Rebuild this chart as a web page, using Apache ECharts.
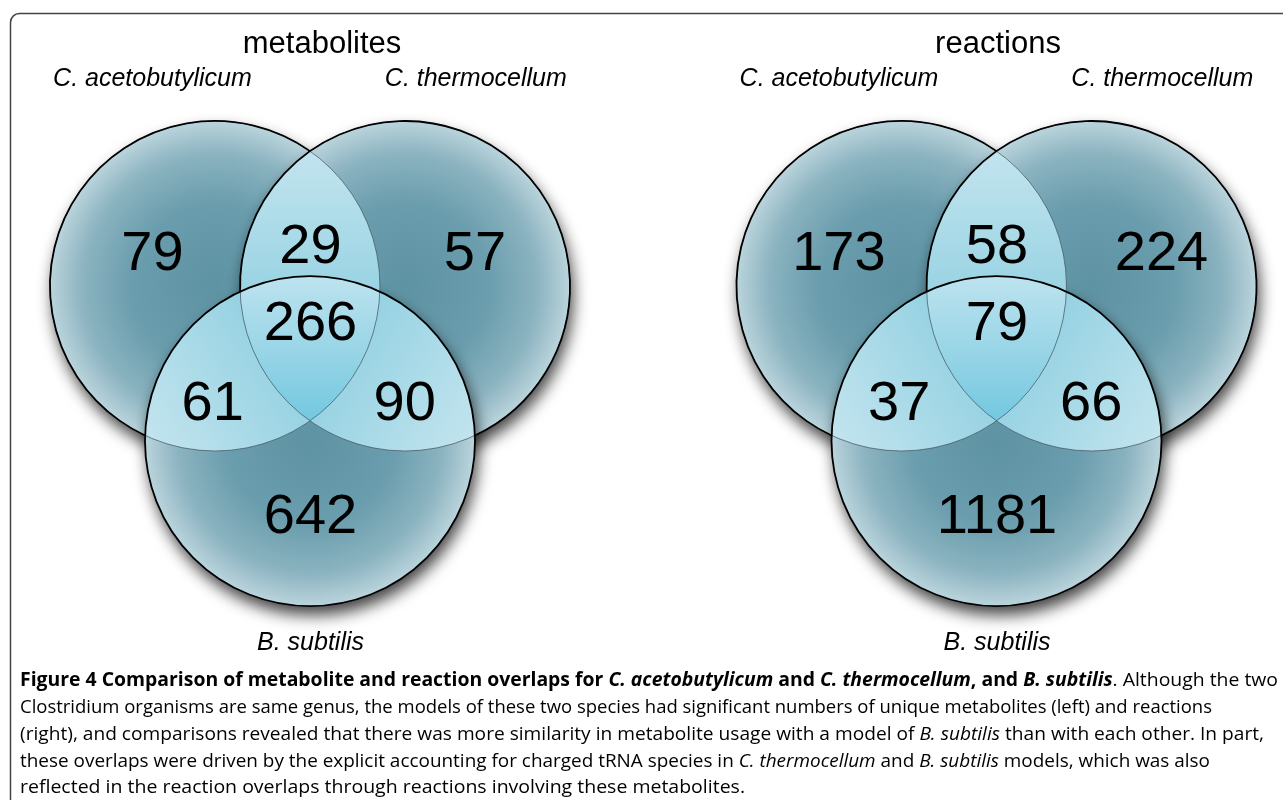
<!DOCTYPE html>
<html><head><meta charset="utf-8">
<script src="https://cdn.jsdelivr.net/npm/echarts@6/dist/echarts.min.js"></script>
<style>html,body{margin:0;padding:0;background:#fff}#chart{width:1283px;height:800px}</style>
</head><body><div id="chart"></div>
<script>
// ---------- data ----------
const panelTitles = ['metabolites', 'reactions'];
const setNames = ['C. acetobutylicum', 'C. thermocellum', 'B. subtilis'];
const regionKeys = ['A', 'AB', 'B', 'ABC', 'AC', 'BC', 'C'];
const metaboliteCounts = [79, 29, 57, 266, 61, 90, 642];
const reactionCounts = [173, 58, 224, 79, 37, 66, 1181];
// Venn layout in units of circle radius (y up)
const circleCenters = [[-0.576, 0], [0.576, 0], [0, -0.94]];
const circleRadius = 1;
const regionAnchors = [[-0.955, 0.19], [0.003, 0.232], [1.0, 0.19], [0.003, -0.232], [-0.59, -0.717], [0.574, -0.717], [0.003, -1.402]];
const setLabelAnchors = [[-0.955, 1.255], [1.005, 1.255], [0.003, -2.163]];
const captionLines = [
  [['Figure 4 Comparison of metabolite and reaction overlaps for ', 'b'], ['C. acetobutylicum', 'bi'], [' and ', 'b'], ['C. thermocellum', 'bi'], [', and ', 'b'], ['B. subtilis', 'bi'], ['. Although the two', 'n']],
  [['Clostridium organisms are same genus, the models of these two species had significant numbers of unique metabolites (left) and reactions', 'n']],
  [['(right), and comparisons revealed that there was more similarity in metabolite usage with a model of ', 'n'], ['B. subtilis', 'i'], [' than with each other. In part,', 'n']],
  [['these overlaps were driven by the explicit accounting for charged tRNA species in ', 'n'], ['C. thermocellum', 'i'], [' and ', 'n'], ['B. subtilis', 'i'], [' models, which was also', 'n']],
  [['reflected in the reaction overlaps through reactions involving these metabolites.', 'n']]
];
const captionWidths = [1258, 1192, 1244, 1190, 725];

// ---------- geometry helpers ----------
function inter(c1, r1, c2, r2) {
  const dx = c2[0] - c1[0], dy = c2[1] - c1[1], d = Math.hypot(dx, dy);
  const a = (r1 * r1 - r2 * r2 + d * d) / (2 * d), h = Math.sqrt(Math.max(0, r1 * r1 - a * a));
  const mx = c1[0] + a * dx / d, my = c1[1] + a * dy / d;
  return [[mx + h * dy / d, my - h * dx / d], [mx - h * dy / d, my + h * dx / d]];
}
function inside(p, c, r) { return Math.hypot(p[0] - c[0], p[1] - c[1]) < r - 0.01; }
function ang(c, p) { return Math.atan2(p[1] - c[1], p[0] - c[0]); }
function arcSeg(c, r, p1, p2, want) {
  const a1 = ang(c, p1), a2 = ang(c, p2);
  let d = a2 - a1; while (d < 0) d += 2 * Math.PI;
  const m = a1 + d / 2, mp = [c[0] + r * Math.cos(m), c[1] + r * Math.sin(m)];
  let sweep = 1, span = d;
  if (!want(mp)) { sweep = 0; span = 2 * Math.PI - d; }
  return ' A ' + r + ' ' + r + ' 0 ' + (span > Math.PI ? 1 : 0) + ' ' + sweep + ' ' + p2[0] + ' ' + p2[1];
}
const M = p => 'M ' + p[0] + ' ' + p[1];

const circleFill = {
  type: 'radial', x: 0.5, y: 0.5, r: 0.5,
  colorStops: [{ offset: 0, color: '#5e93a3' }, { offset: 0.5, color: '#6a9dad' }, { offset: 0.8, color: '#8bb3c0' }, { offset: 1, color: '#bad4dc' }]
};

function vennShapes(params, api) {
  const C = circleCenters.map(c => api.coord(c));
  const r = api.size([circleRadius, circleRadius])[0];
  const R = [r, r, r];
  const pairs = [[0, 1, 2], [0, 2, 1], [1, 2, 0]];
  const pts = {};
  pairs.forEach(([i, j, k]) => {
    const [p, q] = inter(C[i], R[i], C[j], R[j]);
    const pin = inside(p, C[k], R[k]);
    pts['' + i + j] = { inner: pin ? p : q, outer: pin ? q : p };
  });
  const children = [];
  [0, 1, 2].forEach(i => {
    children.push({
      type: 'circle', shape: { cx: C[i][0], cy: C[i][1], r: R[i] },
      style: { fill: circleFill, stroke: null, shadowBlur: 16, shadowColor: 'rgba(0,0,0,0.75)', shadowOffsetX: 3, shadowOffsetY: 9 }
    });
  });
  pairs.forEach(([i, j]) => {
    const P = pts['' + i + j];
    const path = M(P.outer) + arcSeg(C[i], R[i], P.outer, P.inner, pt => inside(pt, C[j], R[j]))
      + arcSeg(C[j], R[j], P.inner, P.outer, pt => inside(pt, C[i], R[i])) + ' Z';
    children.push({
      type: 'path', shape: { pathData: path },
      style: {
        fill: {
          type: 'linear', global: true, x: P.outer[0], y: P.outer[1], x2: P.inner[0], y2: P.inner[1],
          colorStops: [{ offset: 0, color: '#c2e4ee' }, { offset: 0.5, color: '#9bd4e4' }, { offset: 1, color: '#6bbed6' }]
        }, stroke: null
      }
    });
  });
  const vAB = pts['01'].inner, vAC = pts['02'].inner, vBC = pts['12'].inner;
  const tri = M(vAB)
    + arcSeg(C[0], R[0], vAB, vAC, pt => inside(pt, C[1], R[1]) && inside(pt, C[2], R[2]))
    + arcSeg(C[2], R[2], vAC, vBC, pt => inside(pt, C[0], R[0]) && inside(pt, C[1], R[1]))
    + arcSeg(C[1], R[1], vBC, vAB, pt => inside(pt, C[0], R[0]) && inside(pt, C[2], R[2])) + ' Z';
  const topY = C[2][1] - R[2];
  children.push({
    type: 'path', shape: { pathData: tri },
    style: {
      fill: {
        type: 'linear', global: true, x: 0, y: topY, x2: 0, y2: vAB[1],
        colorStops: [{ offset: 0, color: '#bde3ef' }, { offset: 0.55, color: '#96d4e6' }, { offset: 1, color: '#72c8e0' }]
      }, stroke: null
    }
  });
  [0, 1].forEach(i => {
    children.push({ type: 'circle', shape: { cx: C[i][0], cy: C[i][1], r: R[i] }, style: { fill: null, stroke: 'rgba(70,90,100,0.75)', lineWidth: 1 } });
  });
  const aPath = M(pts['01'].outer) + arcSeg(C[0], R[0], pts['01'].outer, pts['02'].outer, pt => !inside(pt, C[1], R[1]) && !inside(pt, C[2], R[2]));
  const bPath = M(pts['12'].inner) + arcSeg(C[1], R[1], pts['12'].inner, pts['12'].outer, pt => !inside(pt, C[2], R[2]));
  children.push({ type: 'path', shape: { pathData: aPath }, style: { fill: null, stroke: '#000', lineWidth: 1.8 } });
  children.push({ type: 'path', shape: { pathData: bPath }, style: { fill: null, stroke: '#000', lineWidth: 1.8 } });
  children.push({ type: 'circle', shape: { cx: C[2][0], cy: C[2][1], r: R[2] }, style: { fill: null, stroke: '#000', lineWidth: 1.8 } });
  return { type: 'group', children };
}

function labelSeries(idx, values) {
  return {
    type: 'custom', xAxisIndex: idx, yAxisIndex: idx, z: 5,
    data: regionAnchors.map((a, i) => [a[0], a[1], values[i]]),
    renderItem: (params, api) => {
      const pt = api.coord([api.value(0), api.value(1)]);
      return { type: 'text', x: pt[0], y: pt[1],
        style: { text: String(api.value(2)), fontSize: 56, fontFamily: 'Liberation Sans, Arial, sans-serif', fill: '#000', align: 'center', verticalAlign: 'middle' } };
    }
  };
}
function setLabelSeries(idx) {
  return {
    type: 'custom', xAxisIndex: idx, yAxisIndex: idx, z: 5,
    data: setLabelAnchors.map((a, i) => [a[0], a[1], i]),
    renderItem: (params, api) => {
      const pt = api.coord([api.value(0), api.value(1)]);
      return { type: 'text', x: pt[0], y: pt[1],
        style: { text: setNames[api.value(2)], fontSize: 25, fontStyle: 'italic', fontFamily: 'Liberation Sans, Arial, sans-serif', fill: '#000', align: 'center', verticalAlign: 'middle' } };
    }
  };
}

// caption layout
const capFont = '"Open Sans", sans-serif';
const capSize = 19;
const segStyles = {
  n: { fontWeight: 'normal', fontStyle: 'normal', color: '#3a3a3a' },
  i: { fontWeight: 'normal', fontStyle: 'italic', color: '#3a3a3a' },
  b: { fontWeight: 'bold', fontStyle: 'normal', color: '#1a1a1a' },
  bi: { fontWeight: 'bold', fontStyle: 'italic', color: '#1a1a1a' }
};
const mctx = document.createElement('canvas').getContext('2d');
function measureLine(line) {
  return line.reduce((w, [t, s]) => {
    const st = segStyles[s];
    mctx.font = st.fontStyle + ' ' + st.fontWeight + ' ' + capSize + 'px ' + capFont;
    return w + mctx.measureText(t).width;
  }, 0);
}
const rich = {};
Object.keys(segStyles).forEach(k => {
  rich[k] = Object.assign({ fontSize: capSize, fontFamily: capFont }, segStyles[k]);
});
const captionY = [681, 708, 735, 762, 788];
const captionGraphics = captionLines.map((line, li) => ({
  type: 'text', x: 20, y: captionY[li], scaleX: captionWidths[li] / measureLine(line),
  style: { text: line.map(([t, s]) => '{' + s + '|' + t + '}').join(''), rich, verticalAlign: 'middle', align: 'left' }
}));

const chart = echarts.init(document.getElementById('chart'), null, { renderer: 'canvas' });
chart.setOption({
  animation: false,
  backgroundColor: '#fff',
  grid: [
    { left: 46, top: 22, width: 528, height: 660 },
    { left: 732.5, top: 22, width: 528, height: 660 }
  ],
  xAxis: [0, 1].map(i => ({ type: 'value', gridIndex: i, min: -1.6, max: 1.6, show: false })),
  yAxis: [0, 1].map(i => ({ type: 'value', gridIndex: i, min: -2.4, max: 1.6, show: false })),
  graphic: [
    { type: 'rect', shape: { x: 10.5, y: 13.5, width: 1300, height: 830, r: 9 }, style: { fill: null, stroke: '#444', lineWidth: 1.5 }, z: -10 },
    { type: 'text', x: 322, y: 44, style: { text: panelTitles[0], fontSize: 31, fontFamily: 'Liberation Sans, Arial, sans-serif', fill: '#000', align: 'center', verticalAlign: 'middle' } },
    { type: 'text', x: 998, y: 44, style: { text: panelTitles[1], fontSize: 31, fontFamily: 'Liberation Sans, Arial, sans-serif', fill: '#000', align: 'center', verticalAlign: 'middle' } }
  ].concat(captionGraphics),
  series: [
    { type: 'custom', xAxisIndex: 0, yAxisIndex: 0, data: [[0, 0]], renderItem: vennShapes },
    { type: 'custom', xAxisIndex: 1, yAxisIndex: 1, data: [[0, 0]], renderItem: vennShapes },
    labelSeries(0, metaboliteCounts),
    labelSeries(1, reactionCounts),
    setLabelSeries(0),
    setLabelSeries(1)
  ]
});
</script>
</body></html>
